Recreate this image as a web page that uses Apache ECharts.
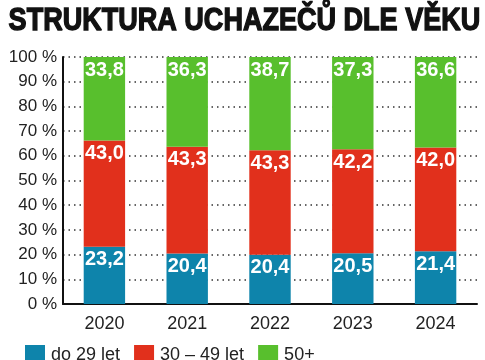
<!DOCTYPE html>
<html><head><meta charset="utf-8">
<script src="https://cdn.jsdelivr.net/npm/echarts@6/dist/echarts.min.js"></script>
<style>html,body{margin:0;padding:0;background:#fff}#c{width:485px;height:360px}</style>
</head><body><div id="c"></div>
<script>
const categories = ['2020','2021','2022','2023','2024'];
const young = [23.2, 20.4, 20.4, 20.5, 21.4];
const middle = [43.0, 43.3, 43.3, 42.2, 42.0];
const older = [33.8, 36.3, 38.7, 37.3, 36.6];
const seriesNames = ['do 29 let', '30 – 49 let', '50+'];
const yTicks = [0,10,20,30,40,50,60,70,80,90,100];
const titleText = 'STRUKTURA UCHAZEČŮ DLE VĚKU';

const FN = '"Liberation Sans", Arial, sans-serif';
const colors = ['#0e84ab', '#e1301c', '#58bf2d'];
const raw = [young, middle, older];
const totals = categories.map((_, i) => young[i] + middle[i] + older[i]);

const chart = echarts.init(document.getElementById('c'), null, {renderer: 'canvas'});
chart.setOption({
  animation: false,
  graphic: [{
    type: 'text', left: 8, top: 4, scaleX: 0.845,
    style: {text: titleText, fontFamily: FN, fontWeight: 'bold', fontSize: 32, fill: '#111',
      stroke: '#111', lineWidth: 1.4}
  }],
  grid: {left: 63, right: 8, top: 57, bottom: 56, containLabel: false},
  legend: {
    left: 20, top: 340, itemWidth: 20, itemHeight: 20, itemGap: 14,
    icon: 'rect',
    data: seriesNames,
    textStyle: {fontFamily: FN, fontSize: 18, color: '#222', padding: [0,0,0,1]}
  },
  xAxis: {
    type: 'category', data: categories,
    axisLine: {lineStyle: {color: '#111', width: 2}},
    axisTick: {show: false},
    axisLabel: {fontFamily: FN, fontSize: 18, color: '#222', margin: 11}
  },
  yAxis: {
    type: 'value', min: 0, max: 100, interval: 10,
    axisLine: {show: true, lineStyle: {color: '#111', width: 2}},
    axisTick: {show: false},
    axisLabel: {fontFamily: FN, fontSize: 17, color: '#222', margin: 6,
      formatter: v => yTicks.includes(v) ? v + ' %' : ''},
    splitLine: {lineStyle: {color: '#333', width: 1.5, type: [1.5, 4]}}
  },
  series: raw.map((arr, s) => ({
    name: seriesNames[s], type: 'bar', stack: 'a', barWidth: '50%',
    itemStyle: {color: colors[s]},
    data: arr.map((v, i) => v / totals[i] * 100),
    label: {
      show: true, position: 'insideTop', distance: 3,
      fontFamily: FN, fontWeight: 'bold', fontSize: 20, color: '#fff',
      formatter: p => arr[p.dataIndex].toFixed(1).replace('.', ',')
    }
  }))
});
</script></body></html>
